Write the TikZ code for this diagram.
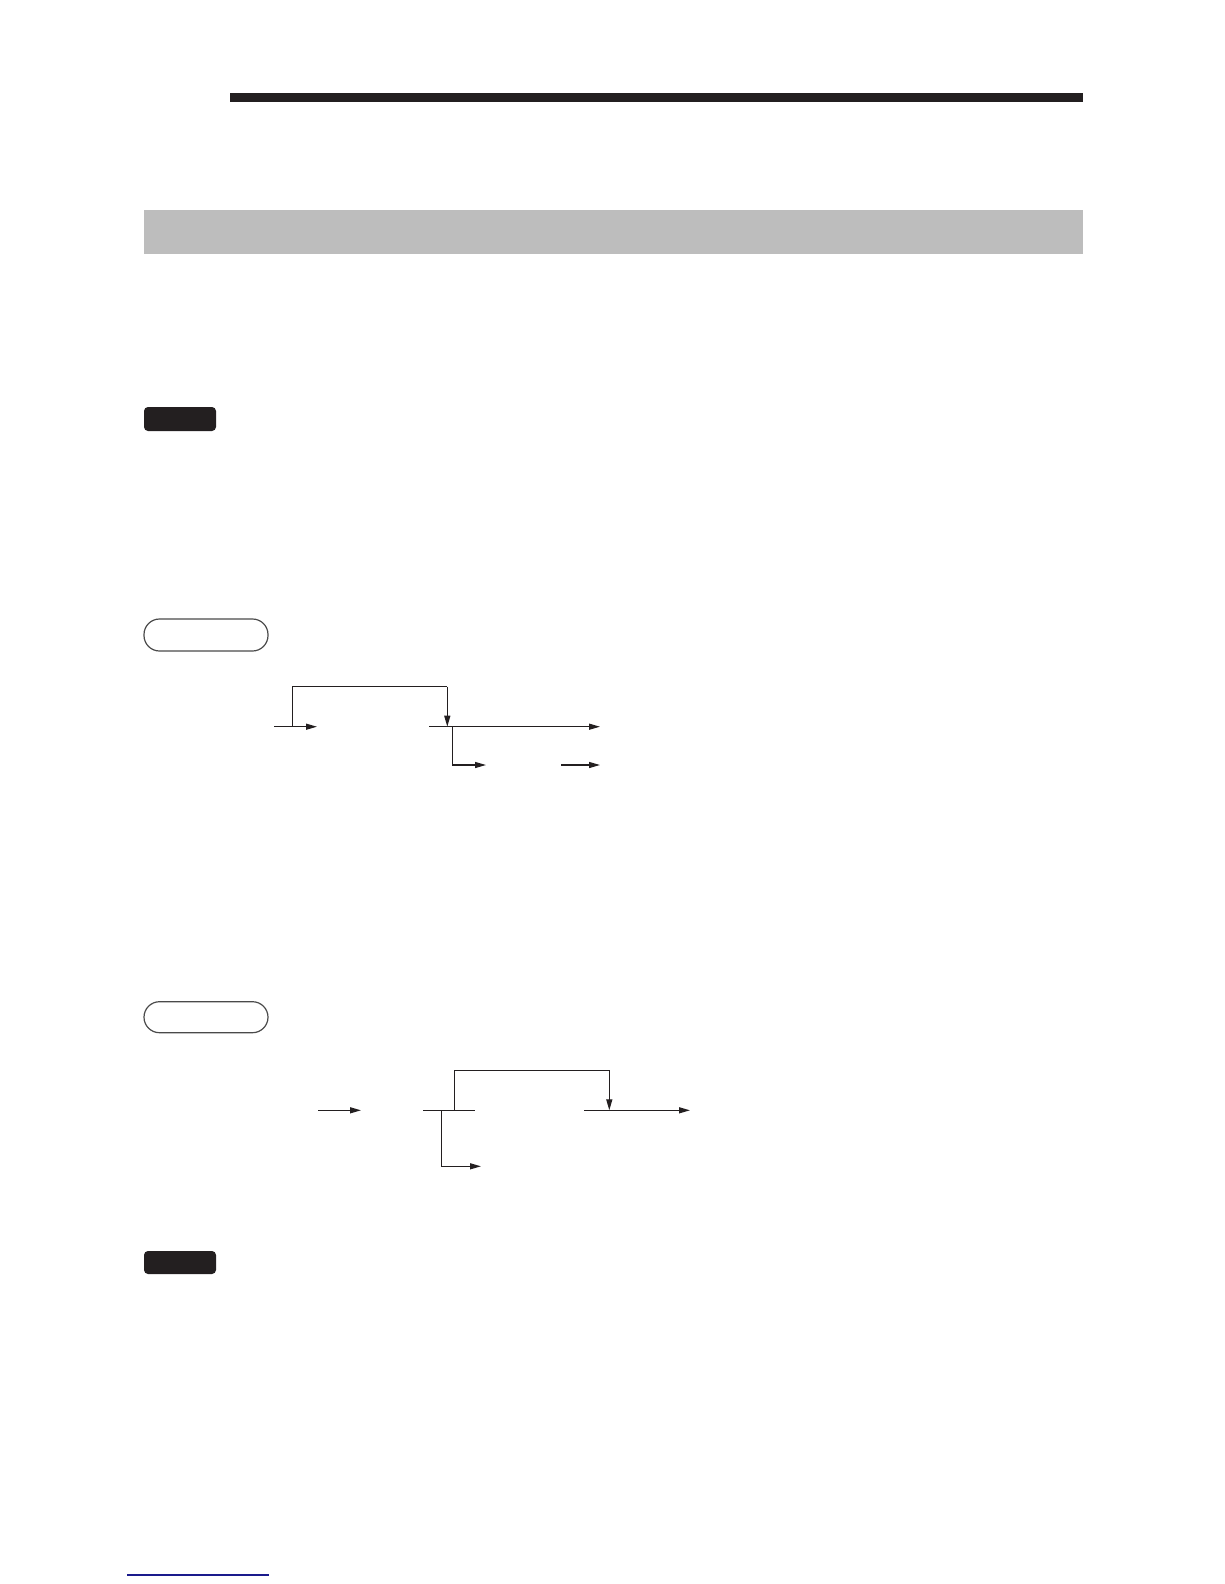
\documentclass[tikz,border=0pt]{standalone}
\usetikzlibrary{arrows.meta}
\definecolor{barblack}{HTML}{231F20}
\definecolor{bandgray}{HTML}{BDBDBD}
\definecolor{pillline}{HTML}{4A4A4A}
\definecolor{linkblue}{HTML}{1A1A8C}
\tikzset{
  flow/.style={line width=1.3pt, draw=barblack},
  flowarrow/.style={flow, -{Triangle[length=11pt,width=6pt]}},
  notebox/.style={fill=barblack, rounded corners=4pt},
  pill/.style={draw=pillline, line width=1.2pt, rounded corners=15.5pt}
}
\begin{document}
\begin{tikzpicture}[x=1pt,y=-1pt]
\useasboundingbox (0,0) rectangle (1224,1584);
\fill[white] (0,0) rectangle (1224,1584);
% header bar and band
\fill[barblack] (230,93) rectangle (1083,102);
\fill[bandgray] (144,210) rectangle (1083,254);
% note box 1
\fill[notebox] (144,407) rectangle (216,431);
% pill 1
\draw[pill] (144,619) rectangle (268,651);
% flow 1
\coordinate (a0) at (274,726.7);
\coordinate (a1) at (317,726.7);
\coordinate (aj) at (292.3,726.7);
\coordinate (at) at (292.3,686.7);
\coordinate (bt) at (447.3,686.7);
\coordinate (bj) at (447.3,726.7);
\coordinate (b0) at (429,726.7);
\coordinate (b1) at (600,726.7);
\coordinate (c0) at (452.7,726.7);
\coordinate (c1) at (452.7,765);
\coordinate (c2) at (486,765);
\coordinate (d0) at (561,765);
\coordinate (d1) at (600,765);
\draw[flowarrow] (a0) -- (a1);
\draw[flow] (aj) -- (at) -- (bt);
\draw[flowarrow] (bt) -- (bj);
\draw[flowarrow] (b0) -- (b1);
\draw[flowarrow] (c0) -- (c1) -- (c2);
\draw[flowarrow] (d0) -- (d1);
% pill 2
\draw[pill] (144,1001.7) rectangle (268,1032.7);
% flow 2
\coordinate (e0) at (318.3,1110.3);
\coordinate (e1) at (361,1110.3);
\coordinate (f0) at (423,1110.3);
\coordinate (f1) at (474.7,1110.3);
\coordinate (fj) at (454.3,1110.3);
\coordinate (ft) at (454.3,1070.3);
\coordinate (gt) at (609.3,1070.3);
\coordinate (gj) at (609.3,1110.3);
\coordinate (g0) at (584,1110.3);
\coordinate (g1) at (690,1110.3);
\coordinate (h0) at (441.3,1110.3);
\coordinate (h1) at (441.3,1166.3);
\coordinate (h2) at (481,1166.3);
\draw[flowarrow] (e0) -- (e1);
\draw[flow] (f0) -- (f1);
\draw[flow] (fj) -- (ft) -- (gt);
\draw[flowarrow] (gt) -- (gj);
\draw[flowarrow] (g0) -- (g1);
\draw[flowarrow] (h0) -- (h1) -- (h2);
% note box 2
\fill[notebox] (144,1251) rectangle (216,1274);
% bottom link line
\draw[linkblue, line width=1.6pt] (127,1575) -- (269,1575);
\end{tikzpicture}
\end{document}
